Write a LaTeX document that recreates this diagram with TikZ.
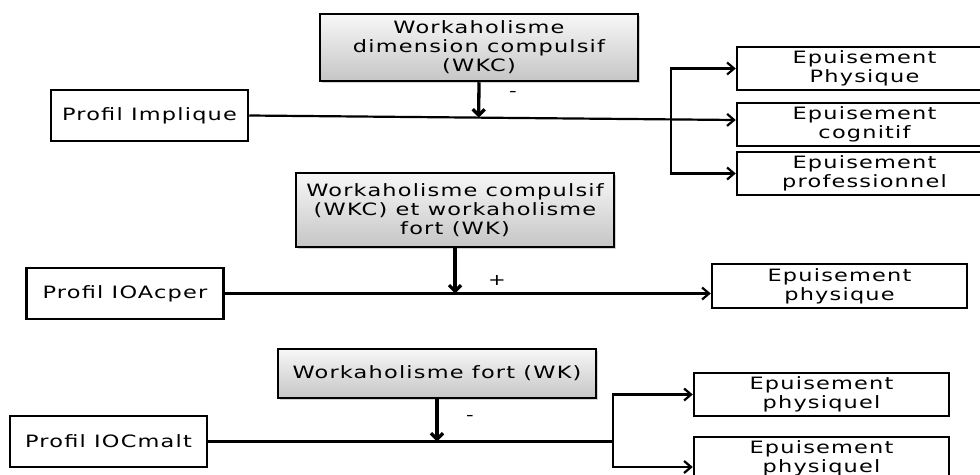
\documentclass[tikz,border=0pt]{standalone}
\usepackage{fontspec}
\setmainfont{DejaVu Sans}[FakeStretch=1.32,LetterSpace=7]
\usetikzlibrary{arrows.meta,calc,shadows}
\begin{document}
\begin{tikzpicture}[x=1pt,y=-1pt,
  box/.style={draw,line width=2.5pt,inner sep=0pt,align=center,fill=white,
    font=\fontsize{17}{19}\selectfont},
  gbox/.style={box,top color=gray!6,bottom color=gray!45,
    drop shadow={shadow xshift=1.5pt,shadow yshift=-1.5pt,opacity=.35}},
  pbox/.style={box,minimum width=197pt,minimum height=51pt},
  ebox/.style={box,minimum width=255pt,minimum height=43pt},
  lbl/.style={inner sep=0pt,font=\fontsize{16}{17}\selectfont},
  conn/.style={line width=2.2pt,-{Straight Barb[length=7pt,width=12pt]}},
  plain/.style={line width=2.2pt},
  both/.style={line width=2.2pt,{Straight Barb[length=7pt,width=12pt]}-{Straight Barb[length=7pt,width=12pt]}},
  vert/.style={line width=3.3pt,-{Straight Barb[length=6pt,width=12pt]}}]
\useasboundingbox (0,0) rectangle (980,474);

% ---- block 1
\node[gbox,minimum width=318pt,minimum height=67pt] (w1) at (479,47.5) {Workaholisme\\dimension compulsif\\(WKC)};
\node[pbox] (p1) at (149.5,115.5) {Profil Implique};
\node[ebox] (e1) at (864.5,68.5) {Epuisement\\Physique};
\node[ebox] (e2) at (864.5,124.5) {Epuisement\\cognitif};
\node[ebox] (e3) at (864.5,173.5) {Epuisement\\professionnel};
\coordinate (t1) at ($(e2.west)+(0,-4.5)$);
\draw[conn] (p1.east) -- (t1);
\coordinate (j1) at ($(p1.east)!(w1.south)!(t1)$);
\draw[vert] (w1.south) -- (j1);
\coordinate (bx1) at (671,0);
\draw[both] (e1.west) -| (bx1 |- e3.west) -- (e3.west);
\node[lbl] (m1) at (513,94) {-};

% ---- block 2
\node[gbox,minimum width=318pt,minimum height=74pt] (w2) at (455,210) {Workaholisme compulsif\\(WKC) et workaholisme\\fort (WK)};
\node[pbox] (p2) at (125,293.5) {Profil IOAcper};
\node[ebox,minimum height=44pt] (f2) at (839.5,286) {Epuisement\\physique};
\draw[conn] (p2.east) -- (p2.east -| f2.west);
\draw[vert] (w2.south) -- (w2.south |- p2.east);
\node[lbl] (m2) at (497,280) {+};

% ---- block 3
\node[gbox,minimum width=318pt,minimum height=49pt] (w3) at (437,373.5) {Workaholisme fort (WK)};
\node[pbox] (p3) at (108.5,441.5) {Profil IOCmalt};
\node[ebox] (g1) at (821.5,394.5) {Epuisement\\physiquel};
\node[ebox] (g2) at (821.5,458.5) {Epuisement\\physiquel};
\coordinate (bx3) at (613,0);
\draw[plain] (p3.east) -- (p3.east -| bx3);
\draw[both] (g1.west) -| ($(bx3 |- g2.west)+(0,8.5)$) -- ($(g2.west)+(0,8.5)$);
\draw[vert] (w3.south) -- (w3.south |- p3.east);
\node[lbl] (m3) at (470,418) {-};
\end{tikzpicture}
\end{document}
